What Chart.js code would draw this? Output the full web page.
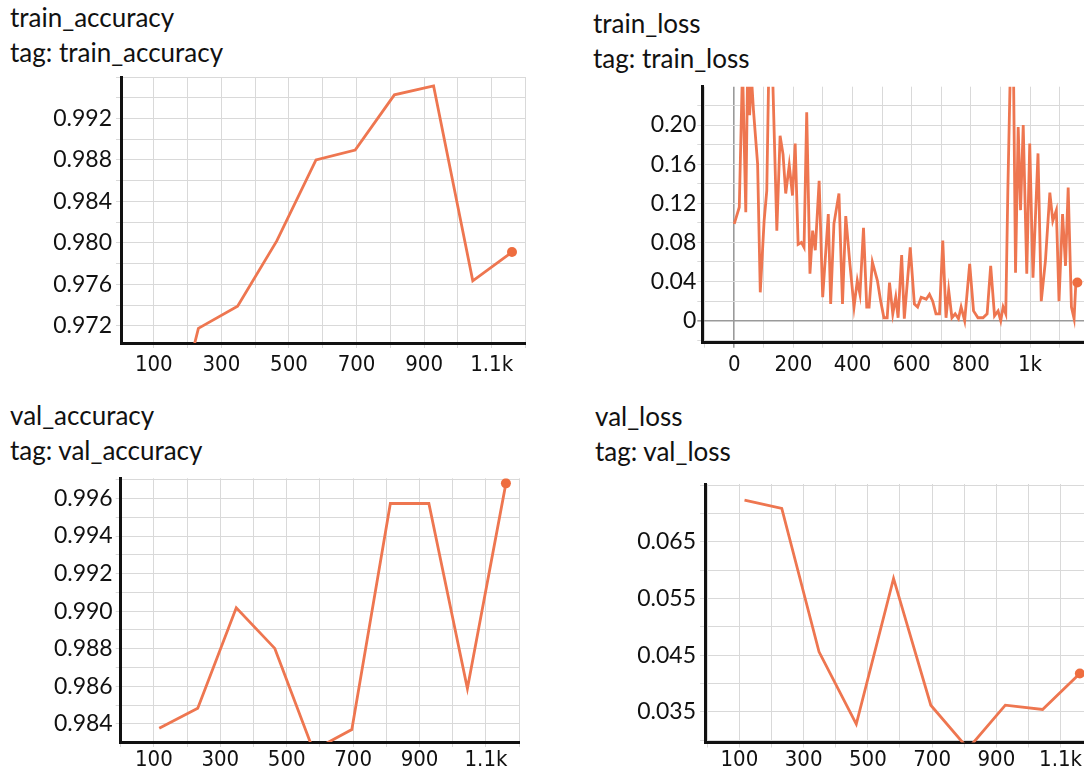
<!DOCTYPE html>
<html>
<head>
<meta charset="utf-8">
<script src="https://cdn.jsdelivr.net/npm/chart.js@4.4.1/dist/chart.umd.min.js"></script>
<style>
  html, body { margin: 0; padding: 0; background: #fff; overflow: hidden; width: 1084px; height: 771px; }
  .title { position: absolute; font-family: Lato, sans-serif; font-size: 26px; line-height: 34.5px; color: #111; white-space: nowrap; }
  canvas { position: absolute; }
</style>
</head>
<body>
<div class="title" style="left:10px;top:0px">train_accuracy<br>tag: train_accuracy</div>
<div class="title" style="left:593px;top:6px">train_loss<br>tag: train_loss</div>
<div class="title" style="left:10px;top:398px">val_accuracy<br>tag: val_accuracy</div>
<div class="title" style="left:595px;top:399px">val_loss<br>tag: val_loss</div>

<canvas id="c1" width="542" height="320" style="left:0px;top:60px"></canvas>
<canvas id="c2" width="540" height="320" style="left:560px;top:60px"></canvas>
<canvas id="c3" width="542" height="311" style="left:0px;top:460px"></canvas>
<canvas id="c4" width="540" height="311" style="left:560px;top:460px"></canvas>

<script>
// one point per epoch
const epochSteps = [116, 232, 348, 464, 580, 696, 812, 928, 1044, 1160];
const trainAccuracy = [0.9565, 0.97177, 0.97391, 0.9802, 0.9880, 0.98896, 0.99428, 0.99514, 0.97635, 0.97913];
const valAccuracy = [0.98377, 0.98484, 0.99018, 0.98802, 0.9826, 0.9837, 0.99573, 0.99573, 0.98588, 0.9968];
const valLoss = [0.07236, 0.07089, 0.04559, 0.03283, 0.05854, 0.03618, 0.0285, 0.03618, 0.03542, 0.04178];

// train loss is logged more often
const trainLossSteps = [0, 17, 28, 39, 47, 52, 58, 65, 79, 88, 101, 110, 118, 129, 144, 155, 165, 174, 186, 197,
  206, 216, 227, 236, 245, 256, 265, 274, 287, 299, 318, 326, 337, 354, 366, 377, 391, 405, 416, 425,
  437, 448, 456, 467, 484, 495, 506, 517, 525, 536, 546, 554, 566, 575, 595, 609, 620, 632, 649, 660,
  671, 682, 694, 705, 716, 725, 736, 747, 758, 767, 779, 796, 809, 824, 841, 855, 867, 880, 892, 901,
  909, 918, 925, 935, 944, 951, 960, 968, 977, 989, 999, 1010, 1027, 1038, 1052, 1067, 1077, 1089, 1098, 1110,
  1120, 1129, 1140, 1149, 1155, 1160];
const trainLoss = [0.099, 0.116, 0.26, 0.111, 0.30, 0.21, 0.25, 0.215, 0.160, 0.029, 0.102, 0.133, 0.28, 0.26, 0.092, 0.189, 0.17, 0.130, 0.159, 0.128,
  0.181, 0.078, 0.080, 0.075, 0.213, 0.048, 0.092, 0.072, 0.143, 0.024, 0.109, 0.017, 0.099, 0.130, 0.017, 0.107, 0.058, 0.014, 0.041, 0.027,
  0.095, 0.014, 0.014, 0.060, 0.041, 0.020, 0.003, 0.003, 0.039, 0.007, 0.024, 0.003, 0.067, 0.002, 0.075, 0.017, 0.014, 0.024, 0.022, 0.027,
  0.020, 0.007, 0.007, 0.082, 0.003, 0.031, 0.003, 0.007, 0.002, 0.014, 0.000, 0.058, 0.010, 0.003, 0.003, 0.007, 0.056, 0.005, 0.010, 0.000,
  0.014, 0.007, 0.133, 0.28, 0.26, 0.049, 0.198, 0.113, 0.200, 0.048, 0.181, 0.044, 0.171, 0.020, 0.061, 0.131, 0.102, 0.113, 0.020, 0.109,
  0.056, 0.136, 0.014, 0.002, 0.039, 0.039];

// tick labels
const stepLabelsOdd = [100, 300, 500, 700, 900, 1100];
const stepLabelsEven = [0, 200, 400, 600, 800, 1000];
const trainAccTicks = [0.972, 0.976, 0.980, 0.984, 0.988, 0.992];
const trainLossTicks = [0, 0.04, 0.08, 0.12, 0.16, 0.20];
const valAccTicks = [0.984, 0.986, 0.988, 0.990, 0.992, 0.994, 0.996];
const valLossTicks = [0.035, 0.045, 0.055, 0.065];

const LINE = '#ee7650';
const DOT = '#ee6d3f';
const GRID = '#d9d9d9';

function gridTicks(min, max, step) {
  const out = [];
  for (let i = Math.ceil(min / step - 1e-9); i * step <= max + 1e-9; i++) {
    out.push({ value: +(i * step).toFixed(6) });
  }
  return out;
}

function stepText(v) {
  return v >= 1000 ? (v / 1000) + 'k' : String(v);
}

function makeChart(id, o) {
  const pts = o.xs.map((x, i) => ({ x: x, y: o.ys[i] }));
  const last = pts.length - 1;
  return new Chart(document.getElementById(id), {
    type: 'line',
    data: {
      datasets: [{
        data: pts,
        borderColor: LINE,
        borderWidth: 2.8,
        tension: 0,
        clip: 0,
        pointRadius: ctx => ctx.dataIndex === last ? 5 : 0,
        pointBackgroundColor: DOT,
        pointBorderWidth: 0
      }]
    },
    options: {
      responsive: false,
      animation: false,
      devicePixelRatio: 1,
      events: [],
      layout: { padding: { left: 0, top: o.padTop, right: o.padRight, bottom: 0 } },
      plugins: { legend: { display: false }, tooltip: { enabled: false } },
      scales: {
        x: {
          type: 'linear',
          min: o.xMin,
          max: o.xMax,
          afterBuildTicks: s => { s.ticks = gridTicks(o.xMin, o.xMax, 100); },
          afterFit: s => { s.height = o.xHeight; s.paddingLeft = 0; s.paddingRight = 0; },
          grid: {
            color: c => (o.zeroLines && c.tick && c.tick.value === 0) ? '#9a9a9a' : GRID,
            lineWidth: c => (o.zeroLines && c.tick && c.tick.value === 0) ? 1.6 : 1,
            tickLength: 5
          },
          border: { display: true, color: '#111', width: 3 },
          ticks: {
            autoSkip: false,
            maxRotation: 0,
            padding: o.xPad,
            color: '#111',
            font: { family: "'Liberation Sans Narrow', 'DejaVu Sans Condensed', sans-serif", size: 22, lineHeight: 1.2 },
            callback: v => o.xLabels.includes(Math.round(v)) ? stepText(Math.round(v)) : ''
          }
        },
        y: {
          type: 'linear',
          min: o.yMin,
          max: o.yMax,
          afterBuildTicks: s => { s.ticks = gridTicks(o.yMin, o.yMax, o.yGrid); },
          afterFit: s => { s.width = o.yWidth; s.paddingTop = 0; s.paddingBottom = 0; },
          grid: {
            color: c => (o.zeroLines && c.tick && Math.abs(c.tick.value) < 1e-9) ? '#9a9a9a' : GRID,
            lineWidth: c => (o.zeroLines && c.tick && Math.abs(c.tick.value) < 1e-9) ? 1.6 : 1,
            tickLength: 5
          },
          border: { display: true, color: '#111', width: 3 },
          ticks: {
            autoSkip: false,
            padding: o.yPad,
            color: '#111',
            font: { family: 'Lato, sans-serif', size: 23, lineHeight: 1.2 },
            callback: v => {
              const hit = o.yLabels.find(l => Math.abs(l - v) < 1e-9);
              return hit === undefined ? '' : o.yFmt(hit);
            }
          }
        }
      }
    }
  });
}

makeChart('c1', {
  xs: epochSteps, ys: trainAccuracy,
  xMin: 3, xMax: 1200, xLabels: stepLabelsOdd,
  yMin: 0.97036, yMax: 0.996, yGrid: 0.002, yLabels: trainAccTicks, yFmt: v => v.toFixed(3),
  padTop: 17, padRight: 16.5, yWidth: 121, xHeight: 37, xPad: 4, yPad: 4, zeroLines: false
});

makeChart('c2', {
  xs: trainLossSteps, ys: trainLoss,
  xMin: -108, xMax: 1195, xLabels: stepLabelsEven,
  yMin: -0.0225, yMax: 0.2392, yGrid: 0.02, yLabels: trainLossTicks, yFmt: v => v === 0 ? '0' : v.toFixed(2),
  padTop: 26.7, padRight: 12.3, yWidth: 142.3, xHeight: 37.3, xPad: 4, yPad: 1, zeroLines: true
});

makeChart('c3', {
  xs: epochSteps, ys: valAccuracy,
  xMin: 0, xMax: 1200, xLabels: stepLabelsOdd,
  yMin: 0.98304, yMax: 0.99707, yGrid: 0.001, yLabels: valAccTicks, yFmt: v => v.toFixed(3),
  padTop: 18.3, padRight: 22.8, yWidth: 120.7, xHeight: 29, xPad: 0, yPad: 3, zeroLines: false
});

makeChart('c4', {
  xs: epochSteps, ys: valLoss,
  xMin: -7, xMax: 1200, xLabels: stepLabelsOdd,
  yMin: 0.0296, yMax: 0.0752, yGrid: 0.005, yLabels: valLossTicks, yFmt: v => v.toFixed(3),
  padTop: 24, padRight: 7.3, yWidth: 145, xHeight: 28.5, xPad: 0, yPad: 4, zeroLines: false
});
</script>
</body>
</html>
